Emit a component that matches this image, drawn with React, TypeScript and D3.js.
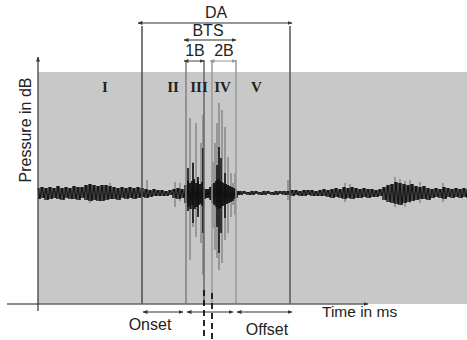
import * as d3 from 'd3';

// time in ms (relative), amplitude in arbitrary pressure units
const boundaries = [104, 148, 166, 174, 198, 252];
const phaseLabels = ['I', 'II', 'III', 'IV', 'V'];
const phasePositions = [67, 135, 161, 184.5, 218.5];

const topSpans = [
  { label: 'DA', from: 104, to: 252 },
  { label: 'BTS', from: 148, to: 198 },
  { label: '1B', from: 148, to: 166 },
  { label: '2B', from: 174, to: 198 },
];
const bottomSpans = [
  { label: 'Onset', from: 104, to: 148 },
  { label: '', from: 148, to: 198 },
  { label: 'Offset', from: 198, to: 252 },
];
const dashedMarks = [166, 174];

const coreTime = [
  0, 4, 8, 12, 16, 20, 24, 28, 32, 36, 40, 44, 48, 52, 56, 60, 64, 68, 72, 76, 80, 84, 88, 92, 96, 100, 104,
  108, 112, 116, 120, 124, 128, 132, 136, 140, 144,
  148, 150, 152, 154, 156, 158, 160, 162, 164, 166, 168, 170, 172, 174, 176, 178, 180, 182, 184, 186, 188, 190, 192, 194, 196, 198, 200,
  202, 206, 210, 214, 218, 222, 226, 230, 234, 238, 242, 246, 250,
  254, 258, 262, 266, 270, 274, 278, 282, 286, 290,
  294, 298, 302, 306, 310, 314, 318, 322, 326, 330,
  334, 338, 342,
  346, 350, 354, 358, 362, 366, 370, 374, 378,
  382, 386, 390,
  394, 398, 402, 406, 410, 414, 418, 422, 426, 430,
];
const coreUp = [
  5, 6, 5, 6, 5, 7, 5, 6, 5, 7, 6, 6, 8, 9, 8, 7, 8, 8, 7, 6, 5, 6, 5, 6, 5, 6, 5,
  4, 3, 4, 3, 3, 2, 3, 4, 5, 4,
  8, 12, 10, 12, 14, 10, 12, 9, 11, 5, 4, 4, 6, 9, 10, 12, 14, 12, 11, 10, 9, 8, 7, 6, 5, 4, 2,
  2, 2, 1, 2, 2, 1, 2, 2, 1, 2, 2, 2, 2,
  3, 3, 2, 3, 3, 3, 2, 3, 4, 3,
  4, 5, 4, 6, 5, 6, 5, 4, 5, 4,
  4, 3, 4,
  6, 8, 9, 11, 10, 9, 8, 9, 7,
  6, 7, 5,
  4, 5, 4, 6, 5, 4, 5, 4, 5, 4,
];
const coreDown = [
  6, 5, 7, 6, 5, 6, 7, 5, 6, 6, 7, 5, 7, 8, 7, 8, 8, 7, 6, 6, 7, 5, 6, 5, 6, 5, 4,
  5, 4, 3, 3, 3, 3, 2, 5, 6, 5,
  10, 14, 16, 12, 16, 14, 12, 11, 13, 6, 5, 5, 7, 10, 12, 14, 16, 15, 13, 12, 11, 10, 9, 8, 6, 5, 2,
  2, 1, 2, 2, 1, 2, 2, 1, 2, 2, 1, 2, 2,
  3, 2, 3, 3, 2, 3, 3, 3, 3, 4,
  5, 4, 5, 6, 5, 6, 5, 5, 4, 5,
  4, 4, 3,
  7, 9, 10, 11, 12, 10, 9, 8, 7,
  6, 6, 7,
  5, 4, 5, 6, 4, 5, 4, 5, 4, 5,
];

// strong dark excursions inside the bursts: [time, up, down]
const darkSpikes: [number, number, number][] = [
  [150, 25, 18], [155, 30, 30], [160, 16, 24], [165, 45, 40],
  [179, 28, 34], [181, 46, 60], [183, 35, 40], [187, 20, 25],
];
// fainter peaks: [time, up, down]
const lightSpikes: [number, number, number][] = [
  [52, 8, 10], [72, 10, 6], [109, 13, 5], [137, 11, 14], [142, 10, 8],
  [152, 75, 67], [155, 31, 34], [158, 70, 44], [160, 16, 24], [163, 50, 50], [165, 78, 82],
  [175, 31, 35], [177, 50, 57], [179, 70, 65], [181, 90, 77], [184, 83, 70], [187, 66, 47],
  [190, 36, 40], [193, 20, 24], [195, 10, 12], [197, 20, 22],
  [250, 13, 7], [307, 10, 9], [312, 9, 6], [357, 16, 14], [362, 14, 12], [367, 12, 14],
  [372, 13, 10], [382, 11, 10], [405, 10, 9],
];

const lineColors = ['#4d4d4d', '#808080', '#666666', '#9a9a9a', '#9a9a9a', '#555555'];
const lineTops = [26, 60, 60, 60, 60, 26];

type Sample = { t: number; up: number; down: number };

export default function App() {
  const width = 467;
  const height = 340;
  const x = d3.scaleLinear().domain([0, 430]).range([38, 468]);
  const y = d3.scaleLinear().domain([-100, 100]).range([293, 93]);

  const core: Sample[] = coreTime.map((t, i) => ({ t, up: coreUp[i], down: coreDown[i] }));
  const area = d3
    .area<Sample>()
    .x((d) => x(d.t))
    .y0((d) => y(-d.down))
    .y1((d) => y(d.up))
    .curve(d3.curveStep);

  // zigzag trace through the envelope values, gives the waveform its texture
  const zig: [number, number][] = [];
  core.forEach((d, i) => {
    const next = core[i + 1] ? core[i + 1].t : d.t + 4;
    zig.push([x(d.t), y(d.up)]);
    zig.push([x((d.t + next) / 2), y(-d.down)]);
  });
  const zigLine = d3.line();

  const sans = 'Liberation Sans, Arial, sans-serif';
  const serif = 'Liberation Serif, Times New Roman, serif';
  const spanY = [23, 40, 61, 61];
  const spanText = [18, 36, 56, 56];
  const spanColor = ['#333', '#333', '#444', '#999'];

  return (
    <svg
      width={width}
      height={height}
      style={{ position: 'absolute', left: 0, top: 0, background: '#fff' }}
    >
      <defs>
        {['#333', '#444', '#999'].map((c, i) => (
          <marker
            key={i}
            id={`arr${i}`}
            viewBox="0 0 10 10"
            refX="9"
            refY="5"
            markerWidth="5"
            markerHeight="5"
            markerUnits="userSpaceOnUse"
            orient="auto-start-reverse"
          >
            <path d="M0,1 L10,5 L0,9 z" fill={c} />
          </marker>
        ))}
      </defs>

      <rect x={x(0)} y={72} width={width - x(0)} height={232} fill="#c8c8c8" />

      {/* waveform */}
      {lightSpikes.map(([t, u, d], i) => (
        <line key={i} x1={x(t)} x2={x(t)} y1={y(u)} y2={y(-d)} stroke="#555" strokeWidth={1.2} opacity={0.7} />
      ))}
      <path d={area(core) ?? ''} fill="#1c1c1c" opacity={0.75} />
      <path d={zigLine(zig) ?? ''} fill="none" stroke="#111" strokeWidth={1} />
      {darkSpikes.map(([t, u, d], i) => (
        <line key={i} x1={x(t)} x2={x(t)} y1={y(u)} y2={y(-d)} stroke="#111" strokeWidth={1.6} />
      ))}

      {/* phase boundaries */}
      {boundaries.map((b, i) => (
        <line key={i} x1={x(b)} x2={x(b)} y1={lineTops[i]} y2={304} stroke={lineColors[i]} strokeWidth={1.5} />
      ))}

      {phaseLabels.map((l, i) => (
        <text key={l} x={x(phasePositions[i])} y={92} textAnchor="middle" fontFamily={serif} fontWeight="bold" fontSize={15} fill="#222">
          {l}
        </text>
      ))}

      {/* top spans */}
      {topSpans.map((s, i) => {
        const m = i === 3 ? 2 : i === 2 ? 1 : 0;
        return (
          <g key={s.label}>
            <line
              x1={x(s.from) - (i === 0 ? 4 : 2)}
              x2={x(s.to) + (i === 0 ? 2 : 0)}
              y1={spanY[i]}
              y2={spanY[i]}
              stroke={spanColor[i]}
              strokeWidth={1}
              markerStart={`url(#arr${m})`}
              markerEnd={`url(#arr${m})`}
            />
            <text
              x={(x(s.from) + x(s.to)) / 2 + (i === 1 ? -3 : 0)}
              y={spanText[i]}
              textAnchor="middle"
              fontFamily={sans}
              fontSize={16}
              fill="#222"
            >
              {s.label}
            </text>
          </g>
        );
      })}

      {/* axes */}
      <line x1={7} x2={368} y1={304} y2={304} stroke="#666" strokeWidth={1.5} markerEnd="url(#arr0)" />
      <line x1={x(0)} x2={x(0)} y1={311} y2={57} stroke="#333" strokeWidth={1.2} markerEnd="url(#arr0)" />
      <text x={322} y={317} fontFamily={sans} fontSize={15.5} fill="#222">Time in ms</text>
      <text
        transform={`translate(31,${130}) rotate(-90)`}
        textAnchor="middle"
        fontFamily={sans}
        fontSize={16}
        fill="#222"
      >
        Pressure in dB
      </text>

      {/* bottom spans */}
      {bottomSpans.map((s, i) => (
        <g key={i}>
          <line
            x1={x(s.from) + 1}
            x2={x(s.to) - (i === 2 ? -2 : 3)}
            y1={312}
            y2={312}
            stroke="#333"
            strokeWidth={1}
            markerStart="url(#arr0)"
            markerEnd="url(#arr0)"
          />
          {s.label && (
            <text
              x={(x(s.from) + x(s.to)) / 2 + (i === 0 ? -14 : 4)}
              y={i === 0 ? 330 : 335}
              textAnchor="middle"
              fontFamily={sans}
              fontSize={16}
              fill="#222"
            >
              {s.label}
            </text>
          )}
        </g>
      ))}
      {dashedMarks.map((t, i) => (
        <line key={i} x1={x(t)} x2={x(t)} y1={290 + i * 3} y2={340} stroke="#111" strokeWidth={1.8} strokeDasharray="6,4" />
      ))}
    </svg>
  );
}
